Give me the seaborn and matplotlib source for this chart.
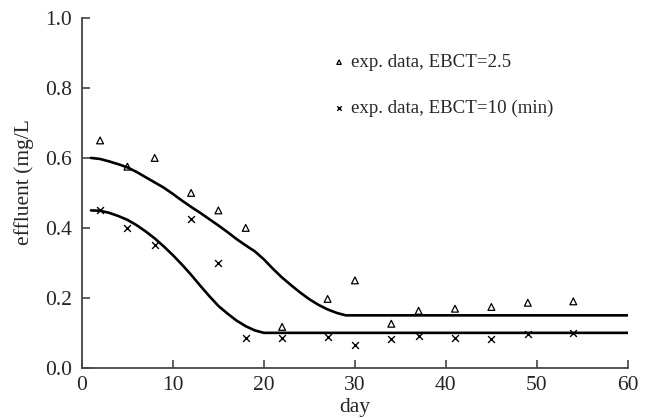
import matplotlib
matplotlib.use("Agg")
import matplotlib.pyplot as plt
import seaborn as sns
import pandas as pd

sns.set_theme(style="ticks")
plt.rcParams['font.family'] = ['Liberation Serif', 'DejaVu Serif']

# experimental data
days_exp = [2, 5, 8, 12, 15, 18, 22, 27, 30, 34, 37, 41, 45, 49, 54]
ebct25 = [0.65, 0.575, 0.60, 0.50, 0.45, 0.40, 0.117, 0.197, 0.25, 0.126, 0.163, 0.169, 0.174, 0.186, 0.19]
ebct10 = [0.45, 0.40, 0.35, 0.425, 0.30, 0.086, 0.086, 0.089, 0.066, 0.083, 0.091, 0.086, 0.083, 0.097, 0.10]

# model curves
days_up = [1, 2, 3, 4, 5, 6, 7, 8, 9, 10, 11, 12, 13, 14, 15, 16, 17, 18, 19, 20,
           21, 22, 23, 24, 25, 26, 27, 28, 29, 60]
model_up = [0.600, 0.597, 0.590, 0.582, 0.573, 0.560, 0.545, 0.530, 0.515, 0.497,
            0.478, 0.460, 0.443, 0.425, 0.407, 0.388, 0.368, 0.350, 0.333, 0.310,
            0.283, 0.258, 0.236, 0.215, 0.196, 0.180, 0.167, 0.157, 0.150, 0.150]
days_lo = [1, 2, 3, 4, 5, 6, 7, 8, 9, 10, 11, 12, 13, 14, 15, 16, 17, 18, 19, 20, 60]
model_lo = [0.450, 0.449, 0.443, 0.434, 0.423, 0.408, 0.390, 0.370, 0.347, 0.322,
            0.295, 0.266, 0.235, 0.205, 0.177, 0.155, 0.135, 0.119, 0.107, 0.100, 0.100]

fig = plt.figure(figsize=(6.5, 4.18), dpi=100)
ax = fig.add_axes([0.126, 0.12, 0.84, 0.837])

sns.lineplot(x=days_up, y=model_up, ax=ax, color='black', linewidth=1.9, sort=False)
sns.lineplot(x=days_lo, y=model_lo, ax=ax, color='black', linewidth=1.9, sort=False)

sns.scatterplot(x=days_exp, y=ebct25, ax=ax, marker='^', s=24, facecolor='none',
                edgecolor='black', linewidth=0.9, label='exp. data, EBCT=2.5')
sns.scatterplot(x=days_exp, y=ebct10, ax=ax, marker='x', s=24, color='black',
                linewidth=1.0, label='exp. data, EBCT=10 (min)')

ax.set_xlim(0, 60)
ax.set_ylim(0, 1.0)
ax.set_xticks([0, 10, 20, 30, 40, 50, 60])
ax.set_yticks([0.0, 0.2, 0.4, 0.6, 0.8, 1.0])
ax.set_yticklabels(['0.0', '0.2', '0.4', '0.6', '0.8', '1.0'])
ax.tick_params(direction='in', length=6, width=1.2, color='#444444', labelsize=15.5, pad=7)
ax.tick_params(axis='x', pad=6)
for s in ['left', 'bottom']:
    ax.spines[s].set_color('#444444')
    ax.spines[s].set_linewidth(1.3)
sns.despine(ax=ax)

ax.set_xlabel('day', fontsize=15.5)
ax.xaxis.set_label_coords(0.5, -0.085)
ax.set_ylabel('effluent (mg/L', fontsize=15.5)
ax.yaxis.set_label_coords(-0.088, 0.53)

leg = ax.legend(loc='upper left', bbox_to_anchor=(0.426, 0.946), frameon=False,
                fontsize=13.6, handlelength=0.8, handletextpad=0.25, labelspacing=1.5,
                markerscale=0.65)

fig.savefig('out.png', dpi=100)
